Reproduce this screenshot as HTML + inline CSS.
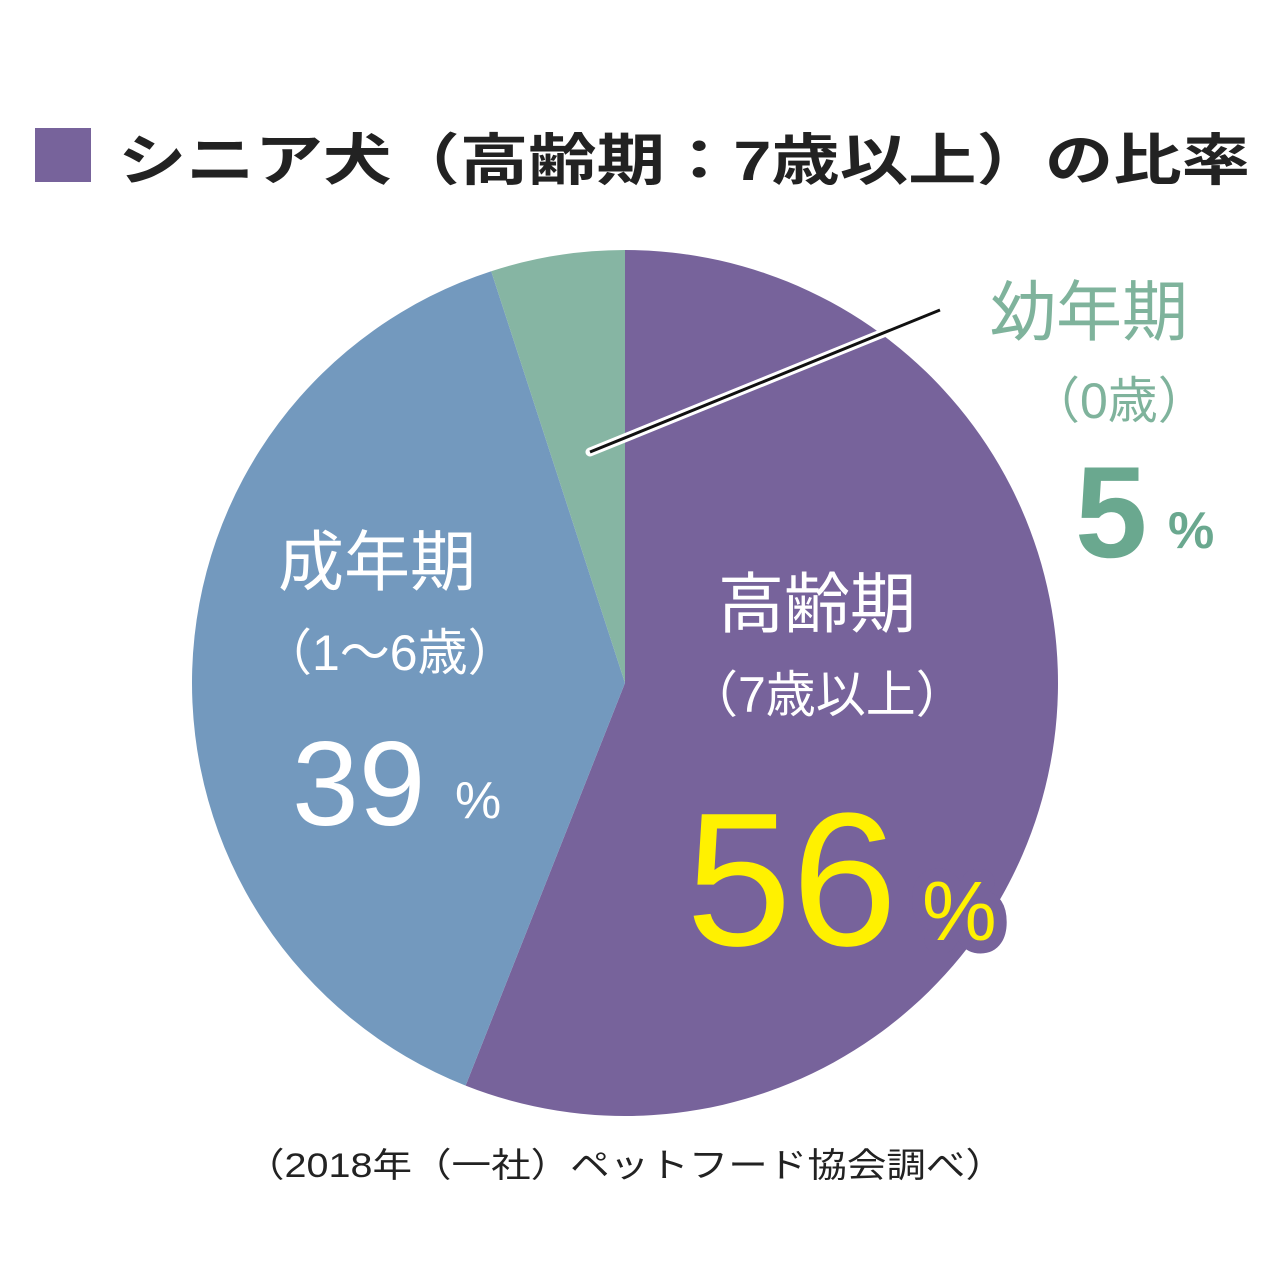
<!DOCTYPE html>
<html><head><meta charset="utf-8"><style>
body{margin:0;background:#fff;width:1280px;height:1284px;overflow:hidden}
svg{display:block}
text{font-family:"Liberation Sans","Noto Sans CJK JP",sans-serif}
</style></head><body>
<svg id="chart" width="1280" height="1284" viewBox="0 0 1280 1284">
<rect x="35" y="128" width="56" height="54" fill="#77639b"/>
<text x="118" y="180" font-size="56" font-weight="bold" fill="#222" textLength="1132" lengthAdjust="spacingAndGlyphs">シニア犬（高齢期：7歳以上）の比率</text>
<g id="slices"></g>
<g id="labels"></g>
<text x="245" y="1177" font-size="34" fill="#222" textLength="760" lengthAdjust="spacingAndGlyphs">（2018年（一社）ペットフード協会調べ）</text>
</svg>
<script>
const categories=["高齢期","成年期","幼年期"];
const values=[56,39,5];
const colors=["#77639b","#7399be","#86b5a3"];
const cx=625,cy=683,r=433;
const ns="http://www.w3.org/2000/svg";
const total=values.reduce((a,b)=>a+b,0);
function pt(frac,rad){const a=frac*2*Math.PI;return [cx+rad*Math.sin(a),cy-rad*Math.cos(a)];}
const g=document.getElementById('slices');
let acc=0;
values.forEach((v,i)=>{
  const s=acc/total,e=(acc+v)/total;acc+=v;
  const [x1,y1]=pt(s,r),[x2,y2]=pt(e,r);
  const large=(e-s)>0.5?1:0;
  const p=document.createElementNS(ns,'path');
  p.setAttribute('d',`M${cx},${cy}L${x1},${y1}A${r},${r} 0 ${large} 1 ${x2},${y2}Z`);
  p.setAttribute('fill',colors[i]);
  
  
  g.appendChild(p);
});
const L=document.getElementById('labels');
function t(x,y,size,fill,str,name,extra){
  const el=document.createElementNS(ns,'text');
  el.setAttribute('x',x);el.setAttribute('y',y);el.setAttribute('font-size',size);el.setAttribute('fill',fill);
  if(extra)for(const k in extra)el.setAttribute(k,extra[k]);
  el.textContent=str;
  
  
  L.appendChild(el);return el;
}
// leader line
const ln1=document.createElementNS(ns,'line');
ln1.setAttribute('x1',590);ln1.setAttribute('y1',452);ln1.setAttribute('x2',940);ln1.setAttribute('y2',310);
ln1.setAttribute('stroke','#fff');ln1.setAttribute('stroke-width',9);ln1.setAttribute('stroke-linecap','round');


L.appendChild(ln1);
const ln2=document.createElementNS(ns,'line');
ln2.setAttribute('x1',590);ln2.setAttribute('y1',452);ln2.setAttribute('x2',940);ln2.setAttribute('y2',310);
ln2.setAttribute('stroke','#111');ln2.setAttribute('stroke-width',3);


L.appendChild(ln2);
// puppy
t(990,335,66,"#7fb39c",categories[2],'puppy-label');
t(1030,418,50,"#7fb39c","（0歳）",'puppy-age');
t(1075,557,130,"#6aa88f",values[2],'puppy-value',{"font-weight":"bold"});
t(1168,548,52,"#6aa88f","%",'puppy-percent',{"font-weight":"bold"});
// adult
t(278,585,66,"#fff",categories[1],'adult-label');
t(262,670,50,"#fff","（1〜6歳）",'adult-age');
t(292,825,120,"#fff",values[1],'adult-value');
t(455,818,52,"#fff","%",'adult-percent');
// senior
t(718,627,66,"#fff",categories[0],'senior-label');
t(688,712,50,"#fff","（7歳以上）",'senior-age');
t(686,945,190,"#fff100",values[0],'senior-value');
t(922,940,84,"#fff100","%",'senior-percent',{"stroke":"#77639b","stroke-width":"26","stroke-linejoin":"round","paint-order":"stroke"});
</script>
</body></html>
